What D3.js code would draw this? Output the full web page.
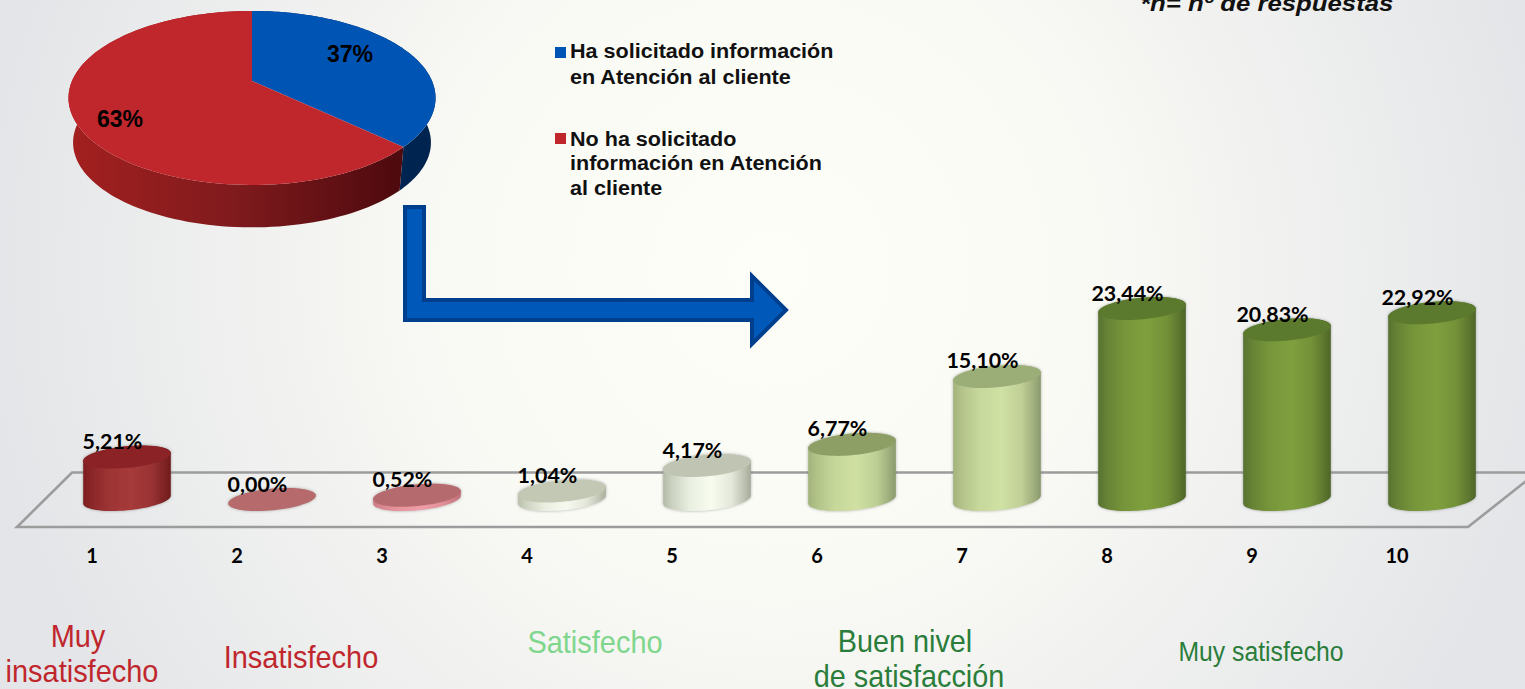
<!DOCTYPE html>
<html lang="es"><head><meta charset="utf-8">
<script src="https://cdn.jsdelivr.net/npm/d3@7/dist/d3.min.js"></script>
<style>html,body{margin:0;padding:0;background:#f4f4f0;overflow:hidden}svg{display:block}</style>
</head><body><svg id="c" width="1525" height="689"></svg>
<script>
// ---- data ----
const pieValues = [37, 63];
const pieLabels = ["37%", "63%"];
const categories = ["1","2","3","4","5","6","7","8","9","10"];
const values = [5.21, 0.00, 0.52, 1.04, 4.17, 6.77, 15.10, 23.44, 20.83, 22.92];
const valueLabels = ["5,21%","0,00%","0,52%","1,04%","4,17%","6,77%","15,10%","23,44%","20,83%","22,92%"];
const legendLines = [["Ha solicitado información","en Atención al cliente"],["No ha solicitado","información en Atención","al cliente"]];
const groupLabels = [["Muy","insatisfecho"],["Insatisfecho"],["Satisfecho"],["Buen nivel","de satisfacción"],["Muy satisfecho"]];
// ---- styles ----
const pieTop = ["#0054b4","#c0272d"];
const barTop = ["#8a2427","#b66a6c","#b56a6e","#c3c8b4","#bfc5b2","#8e9f66","#9cae78","#5c7a2e","#5c7a2e","#5c7a2e"];
const barMid = ["#a63a3a","#c08080","#ee9ca6","#f6f9ee","#f7fcef","#cfe0a2","#d0e1a4","#7f9f3d","#7f9f3d","#7f9f3d"];
const barEdgeL=["#7d1c1e","#a06060","#cc7a84","#b9c0aa","#b3baa6","#a3b37c","#a3b37c","#587230","#587230","#587230"];
const barEdgeR=["#701a1c","#a06060","#c07078","#aab09e","#a5ab9a","#8b9a6c","#8b9a6c","#4e6628","#4e6628","#4e6628"];
const groupColors = ["#c0272d","#c0272d","#7fd68d","#2a7d3a","#2a7d3a"];
const groupSizes = [30.5,30.5,30.5,30.5,27.5];
const groupStretch = [.95,.95,.95,.945,.9];
const groupAnchors = [[[78,647],[82,682]],[[301,668]],[[595,653]],[[905,652],[909,687]],[[1261,661]]];

const svg = d3.select("#c"), defs = svg.append("defs");
const bg = defs.append("radialGradient").attr("id","bg").attr("gradientUnits","userSpaceOnUse")
  .attr("cx",770).attr("cy",270).attr("r",790);
[[0,"#fefef8"],[.4,"#fafaf5"],[1,"#e3e5e8"]].forEach(s=>bg.append("stop").attr("offset",s[0]).attr("stop-color",s[1]));
svg.append("rect").attr("width",1525).attr("height",689).attr("fill","url(#bg)");
const sh = defs.append("filter").attr("id","sh").attr("x","-20%").attr("y","-20%").attr("width","140%").attr("height","140%");
sh.append("feDropShadow").attr("dx",0).attr("dy",0).attr("stdDeviation",1.4).attr("flood-color","#666").attr("flood-opacity",.55);

// ---- floor ----
svg.append("path").attr("d",d3.line()([[1545,472.5],[72,472.5],[17,527],[1468,527],[1540,470]]))
  .attr("fill","none").attr("stroke","#9c9c9c").attr("stroke-width",2.6);

// ---- 3D pie (perspective disc) ----
const P = {cx:252,cy:81,A:180,B:83.7,t:0.195};
const proj = (a,dy=0,s=1)=>{ const u=Math.sin(a),v=-Math.cos(a),w=1-P.t*v;
  return [P.cx+s*P.A*u/w, P.cy+dy+s*P.B*v/w]; };
const arcs = d3.pie().sort(null)(pieValues);
const line = d3.line();
const sideG = (id,stops)=>{const g=defs.append("linearGradient").attr("id",id).attr("gradientUnits","userSpaceOnUse")
  .attr("x1",70).attr("x2",436).attr("y1",0).attr("y2",0);
  stops.forEach(s=>g.append("stop").attr("offset",s[0]).attr("stop-color",s[1]));};
sideG("side0",[[0,"#002a5c"],[1,"#00244f"]]);
sideG("side1",[[0,"#a3201f"],[.45,"#7f1a1d"],[.9,"#4e0a0e"],[1,"#4e0a0e"]]);
arcs.forEach((d,i)=>{
  const as=d3.range(0,121).map(k=>d.startAngle+(d.endAngle-d.startAngle)*k/120);
  const low=as.map(a=>proj(a,45,.975)), up=as.map(a=>proj(a));
  svg.append("path").attr("d",line(up.concat(low.reverse()))+"Z").attr("fill",`url(#side${i})`);
});
arcs.forEach((d,i)=>{
  const as=d3.range(0,121).map(k=>d.startAngle+(d.endAngle-d.startAngle)*k/120);
  svg.append("path").attr("d",line([[P.cx,P.cy]].concat(as.map(a=>proj(a))))+"Z").attr("fill",pieTop[i]);
});
const pieLabelPos=[[350,62],[120,127]];
pieLabels.forEach((t,i)=>svg.append("text").attr("x",pieLabelPos[i][0]).attr("y",pieLabelPos[i][1])
  .attr("text-anchor","middle").attr("font-family","Liberation Sans").attr("font-weight",700).attr("font-size",23).attr("fill","#000").text(t));

// ---- legend ----
const legY=[[58,84],[146,170,195]], legSq=[47,133];
legendLines.forEach((ls,i)=>{
  svg.append("rect").attr("x",555).attr("y",legSq[i]).attr("width",11).attr("height",11).attr("fill",pieTop[i]);
  ls.forEach((t,j)=>svg.append("text").attr("transform",`translate(570,${legY[i][j]}) scale(1.1,1)`)
    .attr("font-family","Liberation Sans").attr("font-weight",700).attr("font-size",19.6).attr("fill","#111").text(t));
});
svg.append("text").attr("transform","translate(1140,11) scale(1.12,1)").attr("font-family","Liberation Sans").attr("font-weight",700)
  .attr("font-style","italic").attr("font-size",23).attr("fill","#111").text("*n= nº de respuestas");

// ---- arrow ----
svg.append("path").attr("d",line([[405,207],[424,207],[424,300],[752,300],[752,276],[786,310],[752,344],[752,320],[405,320]])+"Z")
  .attr("fill","#0058b8").attr("stroke","#003f8e").attr("stroke-width",4);

// ---- cylinders ----
const x = d3.scalePoint().domain(categories).range([127,1432]);
const y = d3.scaleLinear().domain([0,23.44]).range([499.5,308.5]);
const rx=44, ry=10.8, th=-5.5*Math.PI/180;
const ep=(cx,cy,t)=>[cx+rx*Math.cos(t)*Math.cos(th)-ry*Math.sin(t)*Math.sin(th), cy+rx*Math.cos(t)*Math.sin(th)+ry*Math.sin(t)*Math.cos(th)];
const tExt=Math.atan2(-ry*Math.sin(th),rx*Math.cos(th)); // right-most parameter
categories.forEach((c,i)=>{
  const g=defs.append("linearGradient").attr("id","b"+i);
  const mixL=d3.interpolateRgb(barEdgeL[i],barMid[i]), mixR=d3.interpolateRgb(barEdgeR[i],barMid[i]);
  [[0,barEdgeL[i]],[.1,mixL(.35)],[.3,mixL(.8)],[.55,barMid[i]],[.78,mixR(.75)],[.92,mixR(.3)],[1,barEdgeR[i]]].forEach(s=>
    g.append("stop").attr("offset",s[0]).attr("stop-color",s[1]));
  const cx=x(c), top=y(values[i]), base=y(0);
  const G=svg.append("g").attr("filter","url(#sh)");
  const ts=d3.range(0,73).map(k=>k*2*Math.PI/72);
  if(values[i]>0){
    const lower=d3.range(0,37).map(k=>ep(cx,base,tExt+k*Math.PI/36));
    const upper=d3.range(0,37).map(k=>ep(cx,top,tExt+Math.PI+k*Math.PI/36));
    G.append("path").attr("d",line(lower.concat(upper))+"Z").attr("fill",`url(#b${i})`);
  }
  G.append("path").attr("d",line(ts.map(t=>ep(cx,top,t)))+"Z").attr("fill",barTop[i]);
});
valueLabels.forEach((t,i)=>svg.append("text").attr("x",x(categories[i])-14.5).attr("y",y(values[i])-8)
  .attr("text-anchor","middle").attr("font-family","Lato").attr("font-weight",700).attr("font-size",21.4).attr("fill","#000").text(t));

// ---- axis ----
const ax=svg.append("g").attr("transform","translate(-35.5,549)").call(d3.axisBottom(x).tickSize(0).tickPadding(0));
ax.select(".domain").remove();
ax.selectAll("text").attr("font-family","Lato").attr("font-weight",700).attr("font-size",20).attr("fill","#000");

// ---- group captions ----
groupLabels.forEach((ls,i)=>ls.forEach((t,j)=>svg.append("text")
  .attr("transform",`translate(${groupAnchors[i][j][0]},${groupAnchors[i][j][1]}) scale(${groupStretch[i]},1)`)
  .attr("text-anchor","middle").attr("font-family","Liberation Sans").attr("font-size",groupSizes[i])
  .attr("fill",groupColors[i]).text(t)));
</script></body></html>
